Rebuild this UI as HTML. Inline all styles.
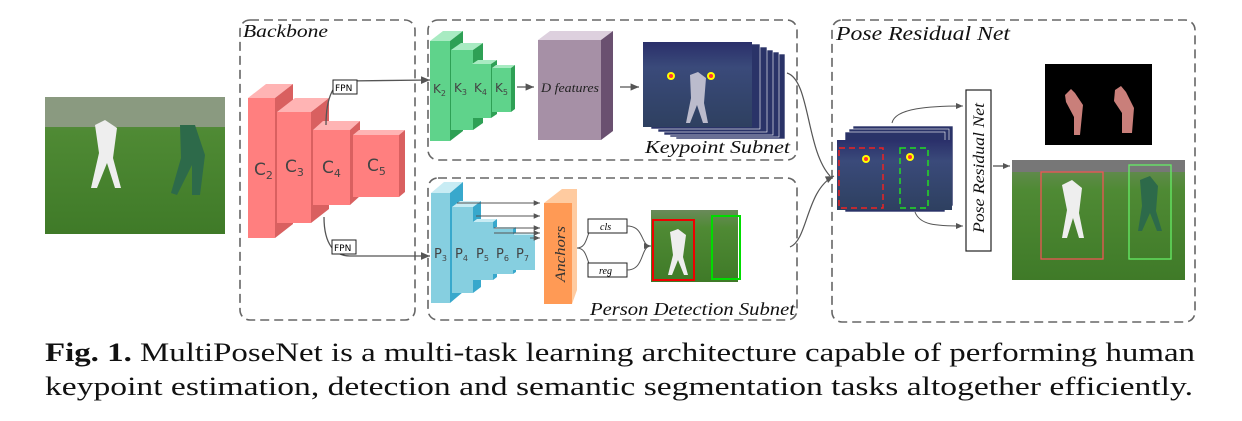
<!DOCTYPE html>
<html><head><meta charset="utf-8"><style>
body{margin:0;background:#fff;width:1242px;height:421px;overflow:hidden}
</style></head><body>
<svg width="1242" height="421" style="position:absolute;left:0;top:0" font-family="Liberation Serif, serif">
<defs>
<marker id="a" markerWidth="8" markerHeight="8" refX="7" refY="4" orient="auto"><path d="M0,1 L7,4 L0,7 z" fill="#555"/></marker>
<linearGradient id="grass" x1="0" y1="0" x2="0" y2="1"><stop offset="0" stop-color="#6a8a5a"/><stop offset="0.25" stop-color="#4f8a34"/><stop offset="1" stop-color="#3f7a28"/></linearGradient>
<linearGradient id="dark" x1="0" y1="0" x2="0" y2="1"><stop offset="0" stop-color="#2a2f6a"/><stop offset="0.3" stop-color="#3a4a7a"/><stop offset="1" stop-color="#2e4060"/></linearGradient>
</defs>
<g fill="none" stroke="#666" stroke-width="1.6" stroke-dasharray="9,5">
<rect x="240" y="20" width="175" height="300" rx="10"/>
<rect x="428" y="20" width="369" height="140" rx="10"/>
<rect x="428" y="178" width="369" height="142" rx="10"/>
<rect x="832" y="20" width="363" height="302" rx="10"/>
</g>
<g font-style="italic" fill="#111">
<text x="243" y="37" font-size="18" textLength="85" lengthAdjust="spacingAndGlyphs">Backbone</text>
<text x="836" y="40" font-size="20" textLength="174" lengthAdjust="spacingAndGlyphs">Pose Residual Net</text>
<text x="645" y="153" font-size="18" textLength="145" lengthAdjust="spacingAndGlyphs">Keypoint Subnet</text>
<text x="590" y="315" font-size="18" textLength="205" lengthAdjust="spacingAndGlyphs">Person Detection Subnet</text>
</g>
<!-- left image -->
<rect x="45" y="97" width="180" height="137" fill="url(#grass)"/>
<rect x="45" y="97" width="180" height="30" fill="#8a9a80"/>
<path d="M95 125 l10 -5 l12 8 l-4 30 l8 30 l-6 0 l-8 -25 l-10 25 l-6 0 l8 -35 z" fill="#eee"/>
<path d="M180 125 l15 0 l10 30 l-5 40 l-8 0 l0 -30 l-15 30 l-6 -2 l10 -35 z" fill="#2d6a4a"/>
<!-- C blocks -->
<g>
<path d="M248 98 l18 -14 l27 0 l-18 14z" fill="#ffb4b4"/><path d="M275 98 l18 -14 l0 140 l-18 14z" fill="#d96060"/><rect x="248" y="98" width="27" height="140" fill="#ff7f7f"/>
<path d="M277 112 l18 -14 l34 0 l-18 14z" fill="#ffb4b4"/><path d="M311 112 l18 -14 l0 111 l-18 14z" fill="#d96060"/><rect x="277" y="112" width="34" height="111" fill="#ff7f7f"/>
<path d="M313 130 l10 -9 l37 0 l-10 9z" fill="#ffb4b4"/><path d="M350 130 l10 -9 l0 75 l-10 9z" fill="#d96060"/><rect x="313" y="130" width="37" height="75" fill="#ff7f7f"/>
<path d="M353 135 l6 -5 l46 0 l-6 5z" fill="#ffb4b4"/><path d="M399 135 l6 -5 l0 62 l-6 5z" fill="#d96060"/><rect x="353" y="135" width="46" height="62" fill="#ff7f7f"/>
</g>
<g font-family="DejaVu Sans, sans-serif" fill="#444" font-size="17">
<text x="254" y="175">C<tspan font-size="11" dy="4">2</tspan></text>
<text x="285" y="172">C<tspan font-size="11" dy="4">3</tspan></text>
<text x="322" y="173">C<tspan font-size="11" dy="4">4</tspan></text>
<text x="367" y="171">C<tspan font-size="11" dy="4">5</tspan></text>
</g>
<!-- FPN -->
<path d="M326 125 C326 95 335 82 345 81 L430 80" fill="none" stroke="#555" stroke-width="1.3" marker-end="url(#a)"/>
<path d="M324 217 C324 245 335 256 350 256 L430 256" fill="none" stroke="#555" stroke-width="1.3" marker-end="url(#a)"/>
<rect x="333" y="80" width="24" height="14" fill="#fff" stroke="#222"/><text x="335" y="91" font-family="DejaVu Sans,sans-serif" font-size="9">FPN</text>
<rect x="332" y="240" width="24" height="14" fill="#fff" stroke="#222"/><text x="334" y="251" font-family="DejaVu Sans,sans-serif" font-size="9">FPN</text>
<!-- K blocks -->
<g>
<path d="M430 41 l13 -10 l20 0 l-13 10z" fill="#a8ebc2"/><path d="M450 41 l13 -10 l0 100 l-13 10z" fill="#2ea055"/><rect x="430" y="41" width="20" height="100" fill="#5fd38b"/>
<path d="M451 50 l10 -7 l22 0 l-10 7z" fill="#a8ebc2"/><path d="M473 50 l10 -7 l0 80 l-10 7z" fill="#2ea055"/><rect x="451" y="50" width="22" height="80" fill="#5fd38b"/>
<path d="M472 64 l6 -4 l19 0 l-6 4z" fill="#a8ebc2"/><path d="M491 64 l6 -4 l0 54 l-6 4z" fill="#2ea055"/><rect x="472" y="64" width="19" height="54" fill="#5fd38b"/>
<path d="M492 68 l4 -3 l19 0 l-4 3z" fill="#a8ebc2"/><path d="M511 68 l4 -3 l0 44 l-4 3z" fill="#2ea055"/><rect x="492" y="68" width="19" height="44" fill="#5fd38b"/>
</g>
<g font-family="DejaVu Sans, sans-serif" fill="#444" font-size="12">
<text x="433" y="93">K<tspan font-size="8" dy="3">2</tspan></text>
<text x="454" y="92">K<tspan font-size="8" dy="3">3</tspan></text>
<text x="474" y="92">K<tspan font-size="8" dy="3">4</tspan></text>
<text x="495" y="92">K<tspan font-size="8" dy="3">5</tspan></text>
</g>
<line x1="517" y1="87" x2="534" y2="87" stroke="#555" stroke-width="1.2" marker-end="url(#a)"/>
<path d="M538 40 l12 -9 l63 0 l-12 9z" fill="#ddd0de"/><path d="M601 40 l12 -9 l0 100 l-12 9z" fill="#6a5070"/><rect x="538" y="40" width="63" height="100" fill="#a690a6"/>
<text x="541" y="92" font-size="13" font-style="italic" fill="#222" textLength="58" lengthAdjust="spacingAndGlyphs">D features</text>
<line x1="620" y1="87" x2="639" y2="87" stroke="#555" stroke-width="1.2" marker-end="url(#a)"/>
<!-- keypoint stack -->
<g stroke="#fff" stroke-width="0.6" fill="#2a3368">
<rect x="676" y="54" width="109" height="85"/><rect x="670" y="52" width="109" height="85"/><rect x="664" y="50" width="109" height="85"/><rect x="658" y="47" width="109" height="85"/><rect x="651" y="44" width="109" height="85"/>
</g>
<rect x="643" y="42" width="109" height="85" fill="url(#dark)"/>
<path d="M690 75 l8 -3 l8 6 l-2 25 l4 20 l-5 0 l-6 -18 l-7 18 l-4 0 l5 -25z" fill="#bbbbcc"/>
<circle cx="671" cy="76" r="4" fill="#ff0"/><circle cx="671" cy="76" r="2" fill="#f33"/>
<circle cx="711" cy="76" r="4" fill="#ff0"/><circle cx="711" cy="76" r="2" fill="#f33"/>
<!-- P blocks -->
<g>
<path d="M431 193 l13 -11 l19 0 l-13 11z" fill="#c8ecf4"/><path d="M450 193 l13 -11 l0 110 l-13 11z" fill="#38a8cc"/><rect x="431" y="193" width="19" height="110" fill="#86cfe0"/>
<path d="M452 207 l8 -6 l21 0 l-8 6z" fill="#c8ecf4"/><path d="M473 207 l8 -6 l0 86 l-8 6z" fill="#38a8cc"/><rect x="452" y="207" width="21" height="86" fill="#86cfe0"/>
<path d="M473 222 l4 -3 l20 0 l-4 3z" fill="#c8ecf4"/><path d="M493 222 l4 -3 l0 58 l-4 3z" fill="#38a8cc"/><rect x="473" y="222" width="20" height="58" fill="#86cfe0"/>
<path d="M493 229 l3 -2 l20 0 l-3 2z" fill="#c8ecf4"/><path d="M513 229 l3 -2 l0 45 l-3 2z" fill="#38a8cc"/><rect x="493" y="229" width="20" height="45" fill="#86cfe0"/>
<path d="M513 235 l2 -2 l20 0 l-2 2z" fill="#c8ecf4"/><rect x="513" y="235" width="22" height="35" fill="#86cfe0"/>
</g>
<g font-family="DejaVu Sans, sans-serif" fill="#444" font-size="13">
<text x="434" y="258">P<tspan font-size="8" dy="3">3</tspan></text>
<text x="455" y="258">P<tspan font-size="8" dy="3">4</tspan></text>
<text x="476" y="258">P<tspan font-size="8" dy="3">5</tspan></text>
<text x="496" y="258">P<tspan font-size="8" dy="3">6</tspan></text>
<text x="516" y="258">P<tspan font-size="8" dy="3">7</tspan></text>
</g>
<g stroke="#555" stroke-width="0.9" marker-end="url(#a)">
<line x1="457" y1="203" x2="540" y2="203"/><line x1="476" y1="216" x2="540" y2="216"/><line x1="494" y1="228" x2="540" y2="228"/><line x1="494" y1="233" x2="540" y2="233"/><line x1="530" y1="238" x2="540" y2="238"/>
</g>
<path d="M544 203 l18 -14 l15 0 l0 101 l-5 14z" fill="#ffcba0"/><rect x="544" y="203" width="28" height="101" fill="#ff9a55"/>
<text transform="translate(565,282) rotate(-90)" font-size="15" font-style="italic" fill="#333" textLength="56" lengthAdjust="spacingAndGlyphs">Anchors</text>
<path d="M577 248 C590 248 585 226 597 226 M577 248 C590 248 585 270 597 270" fill="none" stroke="#555" stroke-width="1"/>
<rect x="588" y="219" width="39" height="14" fill="#fff" stroke="#222"/><text x="600" y="230" font-size="10" font-style="italic">cls</text>
<rect x="588" y="263" width="39" height="14" fill="#fff" stroke="#222"/><text x="599" y="274" font-size="10" font-style="italic">reg</text>
<path d="M627 226 C645 226 640 246 651 246 M627 270 C645 270 640 246 651 246" fill="none" stroke="#555" stroke-width="1" marker-end="url(#a)"/>
<rect x="651" y="210" width="87" height="72" fill="url(#grass)"/>
<rect x="653" y="220" width="41" height="60" fill="none" stroke="#e00" stroke-width="2"/>
<rect x="712" y="216" width="28" height="63" fill="none" stroke="#0d0" stroke-width="2"/>
<path d="M670 232 l8 -3 l8 6 l-3 22 l5 18 l-4 0 l-6 -15 l-6 15 l-4 0 l5 -20z" fill="#eee"/>
<!-- merge curves -->
<path d="M787 73 C810 80 806 150 830 176" fill="none" stroke="#555" stroke-width="1.2"/>
<path d="M790 247 C808 240 806 190 834 176" fill="none" stroke="#555" stroke-width="1.2" marker-end="url(#a)"/>
<!-- PRN stack -->
<g stroke="#fff" stroke-width="0.6" fill="#2a3368">
<rect x="853" y="126" width="100" height="80"/><rect x="849" y="129" width="100" height="80"/><rect x="845" y="132" width="100" height="80"/>
</g>
<rect x="837" y="140" width="115" height="70" fill="url(#dark)"/>
<rect x="839" y="148" width="44" height="60" fill="none" stroke="#e22" stroke-width="1.5" stroke-dasharray="6,4"/>
<rect x="900" y="148" width="28" height="60" fill="none" stroke="#2d2" stroke-width="1.5" stroke-dasharray="6,4"/>
<circle cx="866" cy="159" r="4" fill="#ff0"/><circle cx="866" cy="159" r="2" fill="#f33"/>
<circle cx="910" cy="157" r="4" fill="#ff0"/><circle cx="910" cy="157" r="2" fill="#f33"/>
<path d="M892 123 C895 108 930 106 963 106" fill="none" stroke="#555" stroke-width="1" marker-end="url(#a)"/>
<path d="M915 212 C920 225 935 226 963 226" fill="none" stroke="#555" stroke-width="1" marker-end="url(#a)"/>
<rect x="966" y="90" width="25" height="161" fill="#fff" stroke="#222" stroke-width="1.2"/>
<text transform="translate(984,233) rotate(-90)" font-size="16" font-style="italic" fill="#111" textLength="130" lengthAdjust="spacingAndGlyphs">Pose Residual Net</text>
<line x1="993" y1="166" x2="1010" y2="166" stroke="#222" stroke-width="1" marker-end="url(#a)"/>
<rect x="1045" y="64" width="107" height="81" fill="#000"/>
<path d="M1065 95 l6 -6 l4 4 l8 12 l-3 30 l-6 0 l0 -18 l-8 -15z M1115 90 l6 -4 l5 6 l8 16 l-2 25 l-10 0 l0 -20 l-8 -12z" fill="#c97f7a"/>
<rect x="1012" y="160" width="173" height="120" fill="url(#grass)"/>
<rect x="1012" y="160" width="173" height="12" fill="#777"/>
<rect x="1041" y="172" width="62" height="87" fill="none" stroke="#e55" stroke-width="1.3"/>
<rect x="1129" y="165" width="42" height="94" fill="none" stroke="#6e6" stroke-width="1.3"/>
<path d="M1062 185 l10 -5 l10 8 l-3 25 l5 25 l-5 0 l-6 -20 l-6 20 l-5 0 l5 -28z" fill="#eee"/>
<path d="M1140 180 l10 -4 l8 10 l-2 25 l6 20 l-5 0 l-7 -18 l-8 18 l-4 0 l4 -25z" fill="#2d6a4a"/>
<g font-size="26" fill="#111">
<text x="45" y="361" textLength="1150" lengthAdjust="spacingAndGlyphs"><tspan font-weight="bold">Fig. 1.</tspan> MultiPoseNet is a multi-task learning architecture capable of performing human</text>
<text x="45" y="395" textLength="1148" lengthAdjust="spacingAndGlyphs">keypoint estimation, detection and semantic segmentation tasks altogether efficiently.</text>
</g>
</svg>
</body></html>
